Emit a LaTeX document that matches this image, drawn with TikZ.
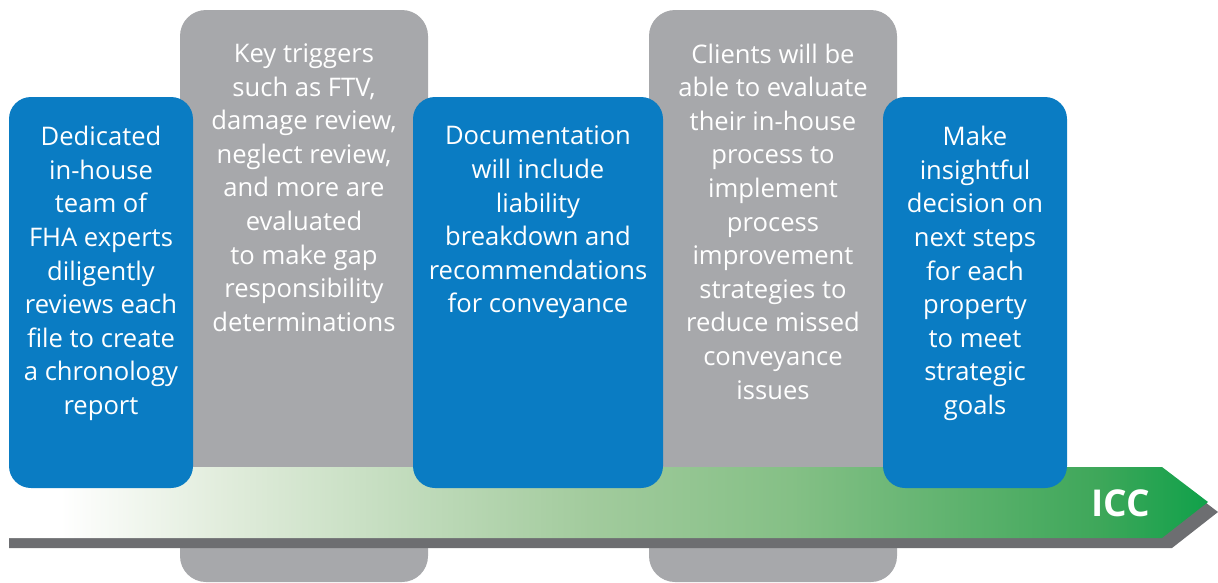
\documentclass[tikz,border=0pt]{standalone}
\usepackage{fontspec}
\setmainfont{Open Sans}
\definecolor{boxblue}{HTML}{0A7CC3}
\definecolor{boxgray}{HTML}{A7A8AB}
\definecolor{shadowgray}{HTML}{6D6E71}
\definecolor{gA}{HTML}{E2EDDD}
\definecolor{gB}{HTML}{A2CB9D}
\definecolor{gC}{HTML}{85C086}
\definecolor{gD}{HTML}{3EA75A}
\definecolor{gE}{HTML}{10A14A}
\pgfdeclarehorizontalshading{arrowgreen}{100bp}{color(0bp)=(white); color(27.5bp)=(white); color(34bp)=(gA); color(49.4bp)=(gB); color(57.7bp)=(gC); color(70.5bp)=(gD); color(75bp)=(gE); color(100bp)=(gE)}
\tikzset{
  bluebox/.style={fill=boxblue, rounded corners=22pt},
  graybox/.style={fill=boxgray, rounded corners=26pt},
  boxtext/.style={anchor=north, align=center, text=white, inner sep=0pt,
    font=\fontsize{25.6}{33.6}\selectfont},
}
\begin{document}
\begin{tikzpicture}[x=1pt,y=-1pt]
\useasboundingbox (0,0) rectangle (1218,582);
\begin{scope}
\clip (0,0) rectangle (1218,582);
% gray boxes
\path[graybox] (180,10) rectangle (428,582);
\path[graybox] (649,10) rectangle (897,582);
% arrow shadow and arrow
\fill[shadowgray] (9,477) -- (1172,477) -- (1218,512) -- (1172,548) -- (9,548) -- cycle;
\shade[shading=arrowgreen] (0,467) -- (1162,467) -- (1208,502) -- (1162,538) -- (0,538) -- cycle;
% blue boxes
\path[bluebox] (9,97) rectangle (193,488);
\path[bluebox] (413,97) rectangle (663,488);
\path[bluebox] (883,97) rectangle (1067,488);
\end{scope}
% texts
\node[boxtext] (t1) at (101,126) {Dedicated\\in-house\\team of\\FHA experts\\diligently\\reviews each\\file to create\\a chronology\\report};
\node[boxtext] (t2) at (304,43.5) {Key triggers\\such as FTV,\\damage review,\\neglect review,\\and more are\\evaluated\\to make gap\\responsibility\\determinations};
\node[boxtext] (t3) at (538,126) {Documentation\\will include\\liability\\breakdown and\\recommendations\\for conveyance};
\node[boxtext] (t4) at (773,43.5) {Clients will be\\able to evaluate\\their in-house\\process to\\implement\\process\\improvement\\strategies to\\reduce missed\\conveyance\\issues};
\node[boxtext] (t5) at (975,126) {Make\\insightful\\decision on\\next steps\\for each\\property\\to meet\\strategic\\goals};
\node[text=white, font=\fontsize{37}{40}\selectfont\bfseries, inner sep=0pt] (icc) at (1121,503) {ICC};
\end{tikzpicture}
\end{document}
